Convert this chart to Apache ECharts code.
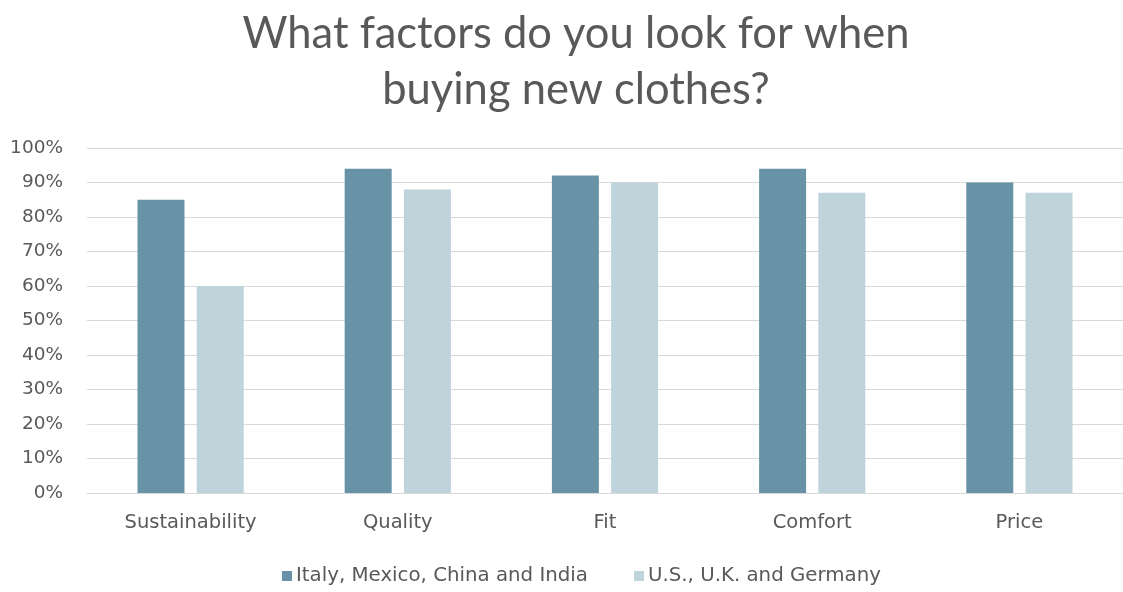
<!DOCTYPE html>
<html>
<head>
<meta charset="utf-8">
<script src="https://cdn.jsdelivr.net/npm/echarts@6/dist/echarts.min.js"></script>
<style>
  html, body { margin: 0; padding: 0; background: #ffffff; }
  #chart { width: 1123px; height: 592px; }
</style>
</head>
<body>
<div id="chart"></div>
<script>
// Survey factors and share of respondents (%) per country group
const categories = ['Sustainability', 'Quality', 'Fit', 'Comfort', 'Price'];
const groupA = [85, 94, 92, 94, 90]; // Italy, Mexico, China and India
const groupB = [60, 88, 90, 87, 87]; // U.S., U.K. and Germany
const seriesNames = ['Italy, Mexico, China and India', 'U.S., U.K. and Germany'];
const titleLines = ['What factors do you look for when', 'buying new clothes?'];

const LABEL_FONT = "'DejaVu Sans', sans-serif";
const TITLE_FONT = "45px Lato, sans-serif";
const TEXT = '#595959';

// The heading runs 667px wide: measure the first line and scale
// both lines by the same factor.
const ctx = document.createElement('canvas').getContext('2d');
ctx.font = TITLE_FONT;
const titleScale = 667 / ctx.measureText(titleLines[0]).width;

const chart = echarts.init(document.getElementById('chart'), null, { renderer: 'canvas' });
chart.setOption({
  animation: false,
  backgroundColor: '#ffffff',
  textStyle: { fontFamily: LABEL_FONT, color: TEXT },
  graphic: titleLines.map((line, i) => ({
    type: 'text',
    x: 576,
    y: 33 + i * 56,
    scaleX: titleScale,
    silent: true,
    style: { text: line, font: TITLE_FONT, fill: TEXT, align: 'center', verticalAlign: 'middle' }
  })),
  legend: {
    data: seriesNames,
    top: 566,
    left: 282,
    padding: 0,
    itemWidth: 10,
    itemHeight: 10,
    itemGap: 46,
    icon: 'rect',
    textStyle: { fontFamily: LABEL_FONT, fontSize: 19.8, color: TEXT, padding: [0, 0, 0, -1] }
  },
  grid: { left: 87, top: 148, width: 1040, height: 345, containLabel: false },
  xAxis: {
    type: 'category',
    data: categories,
    axisLine: { lineStyle: { color: '#d9d9d9' } },
    axisTick: { show: false },
    axisLabel: { fontFamily: LABEL_FONT, fontSize: 19.5, color: TEXT, margin: 20 }
  },
  yAxis: {
    type: 'value',
    min: 0,
    max: 100,
    interval: 10,
    axisLine: { show: false },
    axisTick: { show: false },
    splitLine: { lineStyle: { color: '#d9d9d9', width: 1 } },
    axisLabel: { fontFamily: LABEL_FONT, fontSize: 18.5, color: TEXT, margin: 24, formatter: '{value}%' }
  },
  series: [
    { name: seriesNames[0], type: 'bar', data: groupA, barWidth: 47, barGap: '26%', itemStyle: { color: '#6893a6' } },
    { name: seriesNames[1], type: 'bar', data: groupB, barWidth: 47, barGap: '26%', itemStyle: { color: '#bfd3db' } }
  ]
});
</script>
</body>
</html>
